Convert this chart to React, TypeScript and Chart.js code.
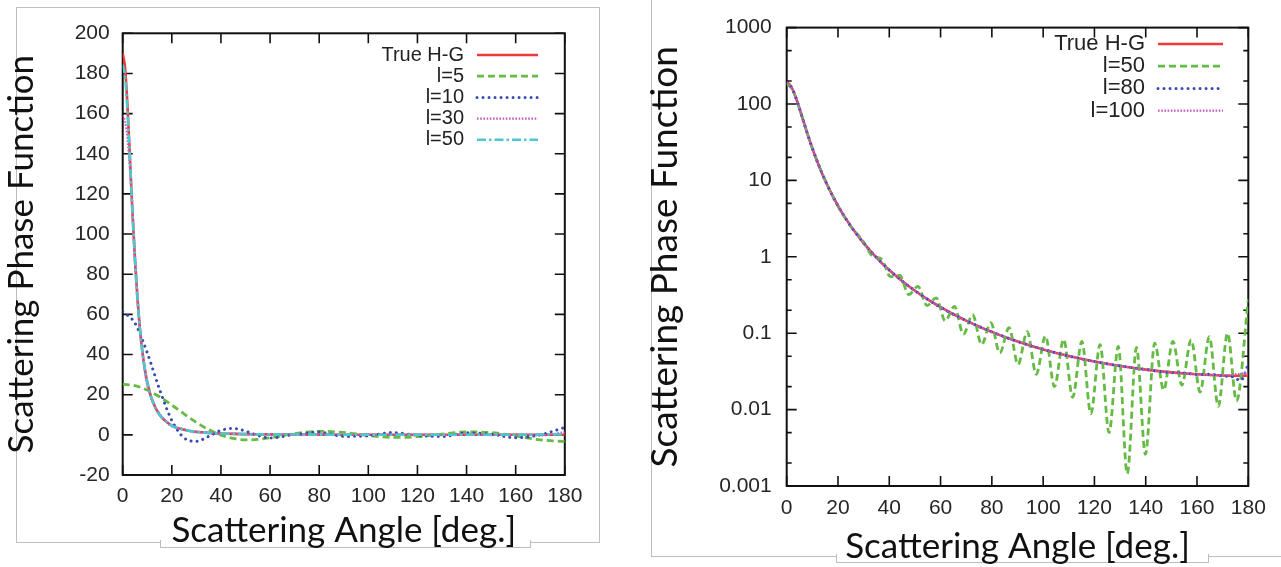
import React, { useEffect, useRef } from 'react';
import { Chart, registerables } from 'chart.js';

Chart.register(...registerables);

// ---------------- data ----------------
const angleTicks = [0, 20, 40, 60, 80, 100, 120, 140, 160, 180];
const linearYTicks = [-20, 0, 20, 40, 60, 80, 100, 120, 140, 160, 180, 200];
const logYTicks = [0.001, 0.01, 0.1, 1, 10, 100, 1000];
const logYTickLabels = ['0.001', '0.01', '0.1', '1', '10', '100', '1000'];
const logMinorMultipliers = [2, 5];

// True Henyey-Greenstein phase function (both panels)
const hgAngles = [0, 1, 2, 3, 4, 5, 6, 7, 8, 9, 10, 12, 15, 20, 25, 30, 35, 40, 45, 50, 55, 60, 65, 70, 75, 80, 85, 90, 100, 110, 120, 130, 140, 150, 160, 170, 180];
const hgValues = [190, 182.4, 162.6, 136.5, 110.1, 86.9, 67.9, 53.0, 41.6, 32.9, 26.3, 17.34, 9.97, 4.65, 2.52, 1.51, 0.978, 0.671, 0.483, 0.36, 0.277, 0.219, 0.177, 0.146, 0.122, 0.104, 0.0894, 0.078, 0.0614, 0.0503, 0.0426, 0.0372, 0.0334, 0.0307, 0.029, 0.028, 0.0277];

// Left panel (linear): truncated expansions
const l5Angles = [0, 5, 10, 15, 20, 25, 30, 35, 40, 45, 50, 55, 60, 70, 80, 90, 100, 110, 120, 130, 140, 150, 160, 170, 180];
const l5Values = [25.25, 24.49, 22.3, 18.95, 14.84, 10.43, 6.22, 2.6, -0.13, -1.82, -2.49, -2.3, -1.51, 0.61, 1.76, 1.19, -0.3, -1.28, -0.91, 0.41, 1.44, 1.12, -0.55, -2.49, -3.34];

const l10Angles = [0, 5, 10, 15, 20, 25, 30, 35, 40, 45, 50, 55, 60, 70, 80, 90, 100, 110, 120, 130, 140, 150, 160, 170, 180];
const l10Values = [61.33, 55.66, 40.88, 22.65, 7.2, -1.52, -3.24, -0.74, 2.24, 3.2, 1.86, -0.31, -1.57, 0.21, 1.37, -0.77, -0.45, 1.15, -0.23, -0.87, 0.99, 0.35, -1.48, 0.01, 3.67];

const l30Angles = [0, 1, 2, 3, 4, 5, 6, 7, 8, 9, 10, 12, 15, 20, 25, 30, 35, 40, 45, 50, 60, 70, 80, 90, 100, 110, 120, 130, 140, 150, 160, 170, 180];
const l30Values = [159.1, 156, 147, 131, 112, 91, 71, 54, 41, 31.5, 24.5, 16.8, 10.6, 4.2, 2.9, 1.2, 1.3, 0.4, 0.7, 0.2, 0.3, 0.1, 0.2, -0.1, 0.2, 0, 0.1, -0.1, 0.2, -0.1, 0.2, -0.3, 1.3];

const l50LinAngles = [0, 1, 2, 3, 4, 5, 6, 7, 8, 10, 12, 15, 20, 25, 30, 40, 50, 60, 80, 100, 120, 140, 160, 180];
const l50LinValues = [184.4, 178, 160, 136, 110, 87, 68, 53, 41.6, 26.3, 17.3, 10.0, 4.6, 2.5, 1.5, 0.7, 0.35, 0.25, 0.1, 0.05, 0.05, 0.02, 0.05, 0.29];

// Right panel (log)
const l50LogAngles = [0, 2, 4, 6, 8, 10, 15, 20, 25, 29.9, 33.5, 37.0, 40.5, 44.1, 47.6, 51.2, 54.7, 58.3, 61.8, 65.4, 68.9, 72.5, 76.0, 79.6, 83.1, 86.7, 90.2, 93.8, 97.3, 100.9, 104.4, 108.0, 111.5, 115.1, 118.6, 122.2, 125.7, 129.3, 132.8, 136.4, 139.9, 143.5, 147.0, 150.6, 154.1, 157.7, 161.2, 164.8, 168.3, 171.9, 175.4, 180];
const l50LogValues = [184.4, 160, 110, 68, 41.6, 26.3, 10.0, 4.6, 2.5, 1.58, 1.02, 0.93, 0.55, 0.57, 0.32, 0.41, 0.23, 0.29, 0.145, 0.225, 0.097, 0.175, 0.071, 0.137, 0.055, 0.118, 0.039, 0.105, 0.029, 0.092, 0.02, 0.083, 0.0145, 0.078, 0.0088, 0.071, 0.005, 0.067, 0.00145, 0.065, 0.0026, 0.074, 0.018, 0.078, 0.021, 0.082, 0.017, 0.09, 0.011, 0.1, 0.013, 0.28];

const l80Angles = [0, 2, 4, 6, 8, 10, 15, 20, 25, 30, 40, 50, 60, 70, 80, 90, 100, 110, 120, 130, 140, 145, 150, 155, 160, 165, 170, 174, 177, 180];
const l80Values = [189.6, 162.4, 110.2, 67.9, 41.6, 26.3, 9.97, 4.65, 2.52, 1.51, 0.671, 0.36, 0.219, 0.146, 0.104, 0.078, 0.0614, 0.0503, 0.0426, 0.0372, 0.0336, 0.0318, 0.0304, 0.0302, 0.0287, 0.029, 0.0276, 0.0268, 0.024, 0.039];

const l100Angles = [0, 1, 2, 3, 4, 5, 6, 7, 8, 9, 10, 12, 15, 20, 25, 30, 35, 40, 45, 50, 55, 60, 65, 70, 75, 80, 85, 90, 100, 110, 120, 130, 140, 150, 160, 170, 180];
const l100Values = [189.95, 182.4, 162.6, 136.5, 110.1, 86.9, 67.9, 53.0, 41.6, 32.9, 26.3, 17.34, 9.97, 4.65, 2.52, 1.51, 0.978, 0.671, 0.483, 0.36, 0.277, 0.219, 0.177, 0.146, 0.122, 0.104, 0.0894, 0.078, 0.0614, 0.0503, 0.0426, 0.0372, 0.0334, 0.0307, 0.029, 0.0281, 0.0304];

// ---------------- styles ----------------
const STYLES: any = {
  red: { color: '#ee3a3a', width: 2.6, dash: [], cap: 'butt' },
  green: { color: '#66bb44', width: 2.8, dash: [7, 4], cap: 'butt' },
  blue: { color: '#3a4bb0', width: 3, dash: [0.01, 6], cap: 'round' },
  magenta: { color: '#c45ec4', width: 2.2, dash: [1.6, 1.6], cap: 'butt' },
  cyan: { color: '#4cc8d0', width: 2.6, dash: [9, 3, 2.5, 3], cap: 'butt' },
};

const TICK_FONT = '"Liberation Sans", Arial, Helvetica, sans-serif';
const TITLE_FONT = 'Lato, "Open Sans", sans-serif';

function makeDatasets(series: any[]) {
  const n = series.length;
  return series.map((s, i) => ({
    label: s.label,
    data: s.angles.map((a: number, k: number) => ({ x: a, y: s.values[k] })),
    borderColor: s.style.color,
    backgroundColor: s.style.color,
    borderWidth: s.style.width,
    borderDash: s.style.dash,
    borderCapStyle: s.style.cap,
    pointRadius: 0,
    fill: false,
    cubicInterpolationMode: 'monotone',
    order: n - 1 - i,
  }));
}

function makeFramePlugin(o: any) {
  return {
    id: 'gpFrame',
    beforeDatasetsDraw(chart: any) {
      const { ctx, chartArea: a } = chart;
      const xs = chart.scales.x;
      const ys = chart.scales.y;
      ctx.save();
      ctx.strokeStyle = '#111';
      ctx.setLineDash([]);
      ctx.lineWidth = 1.6;
      ctx.beginPath();
      xs.ticks.forEach((t: any) => {
        const p = xs.getPixelForValue(t.value);
        ctx.moveTo(p, a.bottom); ctx.lineTo(p, a.bottom - o.major);
        ctx.moveTo(p, a.top); ctx.lineTo(p, a.top + o.major);
      });
      ys.ticks.forEach((t: any) => {
        const p = ys.getPixelForValue(t.value);
        ctx.moveTo(a.left, p); ctx.lineTo(a.left + o.major, p);
        ctx.moveTo(a.right, p); ctx.lineTo(a.right - o.major, p);
        if (o.minor) {
          o.minor.forEach((m: number) => {
            const v = t.value * m;
            if (v < ys.max) {
              const q = ys.getPixelForValue(v);
              ctx.moveTo(a.left, q); ctx.lineTo(a.left + o.minorLen, q);
              ctx.moveTo(a.right, q); ctx.lineTo(a.right - o.minorLen, q);
            }
          });
        }
      });
      ctx.stroke();
      ctx.lineWidth = 2;
      ctx.strokeRect(a.left, a.top, a.right - a.left, a.bottom - a.top);
      ctx.restore();
    },
  };
}

function makeLegendPlugin(o: any) {
  return {
    id: 'gpLegend',
    afterDatasetsDraw(chart: any) {
      const ctx = chart.ctx;
      ctx.save();
      chart.data.datasets.forEach((ds: any, i: number) => {
        const y = o.y0 + i * o.dy;
        ctx.font = `${o.fontSize}px ${TICK_FONT}`;
        ctx.fillStyle = '#222';
        ctx.textAlign = 'right';
        ctx.textBaseline = 'middle';
        ctx.fillText(ds.label, o.textRight, y);
        ctx.strokeStyle = ds.borderColor;
        ctx.lineWidth = ds.borderWidth;
        ctx.setLineDash(ds.borderDash || []);
        ctx.lineCap = ds.borderCapStyle || 'butt';
        ctx.beginPath();
        ctx.moveTo(o.x1, y);
        ctx.lineTo(o.x2, y);
        ctx.stroke();
      });
      ctx.restore();
    },
  };
}

function buildConfig(p: any) {
  return {
    type: 'line',
    data: { datasets: makeDatasets(p.series) },
    options: {
      responsive: false,
      animation: false,
      devicePixelRatio: 1,
      layout: { padding: p.padding },
      plugins: { legend: { display: false }, tooltip: { enabled: false } },
      elements: { point: { radius: 0 } },
      scales: {
        x: {
          type: 'linear',
          min: 0,
          max: 180,
          afterBuildTicks: (s: any) => { s.ticks = angleTicks.map((v) => ({ value: v })); },
          afterFit: (s: any) => { s.height = p.xHeight; },
          grid: { display: false, drawTicks: false },
          border: { display: false },
          ticks: {
            autoSkip: false, maxRotation: 0, padding: p.xTickPad, color: '#262626',
            font: { family: TICK_FONT, size: 21 },
            callback: (v: any) => String(v),
          },
          title: {
            display: true, text: 'Scattering Angle [deg.]', color: '#111',
            font: { family: TITLE_FONT, size: p.xTitleSize, lineHeight: 1 },
            padding: { top: 0, bottom: p.xTitlePad },
          },
        },
        y: {
          type: p.yType,
          min: p.yMin,
          max: p.yMax,
          afterBuildTicks: (s: any) => { s.ticks = p.yTicks.map((v: number) => ({ value: v })); },
          afterFit: (s: any) => { s.width = p.yWidth; },
          grid: { display: false, drawTicks: false },
          border: { display: false },
          ticks: {
            autoSkip: false, padding: p.yTickPad, color: '#262626',
            font: { family: TICK_FONT, size: 21 },
            callback: (v: any) => {
              const k = p.yTicks.indexOf(v);
              return k >= 0 ? p.yTickLabels[k] : '';
            },
          },
          title: {
            display: true, text: 'Scattering Phase Function', color: '#111',
            font: { family: TITLE_FONT, size: p.yTitleSize, lineHeight: 1 },
            padding: { top: p.yTitlePad, bottom: 0 },
          },
        },
      },
    },
    plugins: [makeFramePlugin(p.frame), makeLegendPlugin(p.legend)],
  };
}

const leftSeries = [
  { label: 'True H-G', angles: hgAngles, values: hgValues, style: STYLES.red },
  { label: 'l=5', angles: l5Angles, values: l5Values, style: STYLES.green },
  { label: 'l=10', angles: l10Angles, values: l10Values, style: STYLES.blue },
  { label: 'l=30', angles: l30Angles, values: l30Values, style: STYLES.magenta },
  { label: 'l=50', angles: l50LinAngles, values: l50LinValues, style: STYLES.cyan },
];

const rightSeries = [
  { label: 'True H-G', angles: hgAngles, values: hgValues, style: STYLES.red },
  { label: 'l=50', angles: l50LogAngles, values: l50LogValues, style: STYLES.green },
  { label: 'l=80', angles: l80Angles, values: l80Values, style: STYLES.blue },
  { label: 'l=100', angles: l100Angles, values: l100Values, style: STYLES.magenta },
];

const leftParams = {
  series: leftSeries,
  padding: { left: 0, top: 33.3, right: 75.2, bottom: 0 },
  xHeight: 92,
  xTickPad: 9,
  xTitleSize: 35,
  xTitlePad: 19,
  yType: 'linear',
  yMin: -20,
  yMax: 200,
  yTicks: linearYTicks,
  yTickLabels: linearYTicks.map((v) => String(v)),
  yWidth: 122.7,
  yTickPad: 13,
  yTitleSize: 35,
  yTitlePad: 4,
  frame: { major: 10 },
  legend: { textRight: 464, x1: 477, x2: 538, y0: 55, dy: 21.2, fontSize: 20 },
};

const rightParams = {
  series: rightSeries,
  padding: { left: 0, top: 23.3, right: 32.7, bottom: 0 },
  xHeight: 81,
  xTickPad: 10,
  xTitleSize: 35,
  xTitlePad: 3,
  yType: 'logarithmic',
  yMin: 0.001,
  yMax: 1000,
  yTicks: logYTicks,
  yTickLabels: logYTickLabels,
  yWidth: 145.7,
  yTickPad: 15,
  yTitleSize: 37,
  yTitlePad: 6,
  frame: { major: 10, minor: logMinorMultipliers, minorLen: 5 },
  legend: { textRight: 504, x1: 517, x2: 582, y0: 44, dy: 22.2, fontSize: 22 },
};

function ChartPanel({ params, left }: { params: any; left: number }) {
  const ref = useRef<HTMLCanvasElement | null>(null);
  useEffect(() => {
    const chart = new Chart(ref.current as any, buildConfig(params) as any);
    return () => chart.destroy();
  }, []);
  return (
    <canvas
      ref={ref}
      width={640}
      height={567}
      style={{ position: 'absolute', left, top: 0, width: 640, height: 567 }}
    />
  );
}

export default function App() {
  const gray = '1px solid #bdbdbd';
  return (
    <div style={{ position: 'absolute', left: 0, top: 0, width: 1281, height: 567, overflow: 'hidden', background: '#fff' }}>
      {/* left panel frame */}
      <div style={{ position: 'absolute', left: 16, top: 7, width: 584, height: 536, border: gray, boxSizing: 'border-box' }} />
      <div style={{ position: 'absolute', left: 160, top: 540, width: 371, height: 8, background: '#fff', borderLeft: gray, borderRight: gray, borderBottom: gray, boxSizing: 'border-box' }} />
      {/* right panel frame */}
      <div style={{ position: 'absolute', left: 651, top: -2, width: 700, height: 559, border: gray, boxSizing: 'border-box' }} />
      <div style={{ position: 'absolute', left: 836, top: 554, width: 373, height: 9, background: '#fff', borderLeft: gray, borderRight: gray, borderBottom: gray, boxSizing: 'border-box' }} />
      <ChartPanel params={leftParams} left={0} />
      <ChartPanel params={rightParams} left={641} />
    </div>
  );
}
